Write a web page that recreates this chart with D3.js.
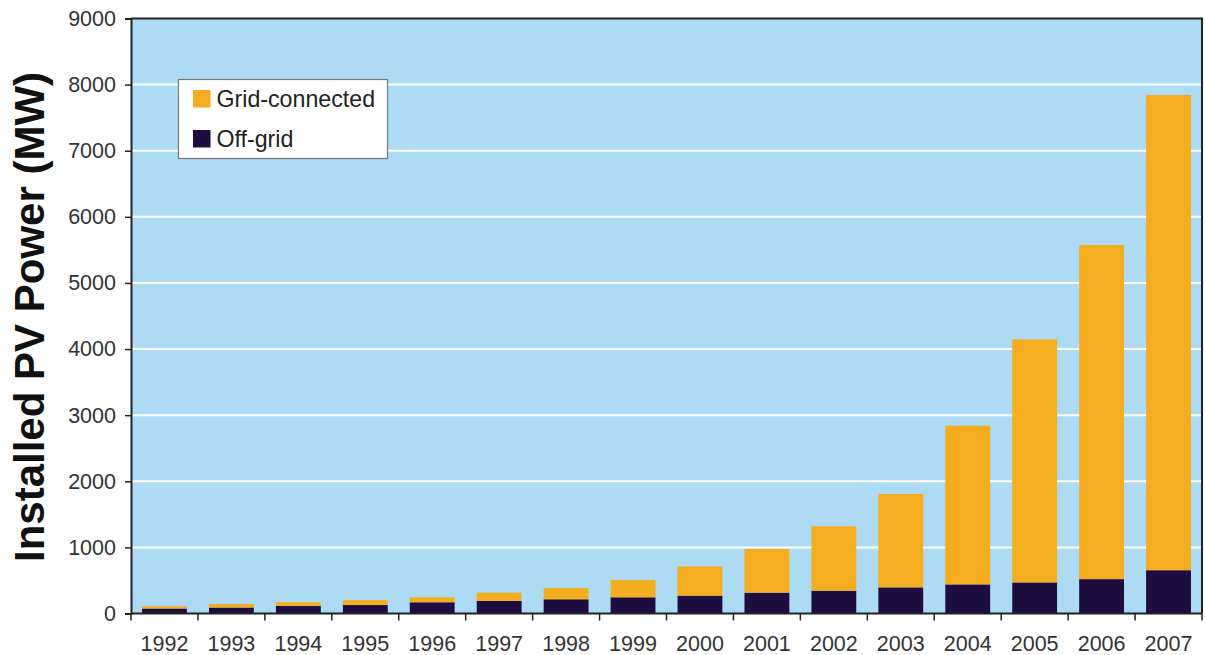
<!DOCTYPE html>
<html>
<head>
<meta charset="utf-8">
<script src="https://cdn.jsdelivr.net/npm/d3@7/dist/d3.min.js"></script>
<style>
  html, body { margin: 0; padding: 0; background: #ffffff; }
  svg { display: block; font-family: "Liberation Sans", Arial, Helvetica, sans-serif; }
</style>
</head>
<body>
<svg id="chart" width="1205" height="655"></svg>
<script>
// Installed PV power (MW) per year, split into off-grid and grid-connected
const years = ["1992","1993","1994","1995","1996","1997","1998","1999",
               "2000","2001","2002","2003","2004","2005","2006","2007"];
const offGrid = [75, 90, 115, 128, 170, 190, 215, 245, 270, 315, 345, 395, 440, 470, 520, 655];
const gridConnected = [35, 53, 55, 72, 75, 125, 170, 260, 442, 661, 974, 1413, 2401, 3678, 5054, 7188];
const yTicks = [0, 1000, 2000, 3000, 4000, 5000, 6000, 7000, 8000, 9000];
const seriesNames = ["Off-grid", "Grid-connected"];
const seriesColors = ["#1e0e40", "#f3ad1e"];

const svg = d3.select("#chart");
const margin = { left: 131, right: 3, top: 18.5, bottom: 41.5 };
const W = 1205, H = 655;
const x0 = margin.left, x1 = W - margin.right;
const y0 = H - margin.bottom, y1 = margin.top;

const rows = years.map((yr, i) => ({ year: yr, "Off-grid": offGrid[i], "Grid-connected": gridConnected[i] }));
const stacked = d3.stack().keys(seriesNames)(rows);

const x = d3.scaleBand().domain(years).range([x0, x1]).paddingInner(0.33).paddingOuter(0.165);
const y = d3.scaleLinear().domain([0, 9000]).range([y0, y1]);
const color = d3.scaleOrdinal().domain(seriesNames).range(seriesColors);

// plot background
svg.append("rect")
  .attr("x", x0).attr("y", y1)
  .attr("width", x1 - x0).attr("height", y0 - y1)
  .attr("fill", "#addbf4");

// horizontal gridlines
svg.append("g")
  .selectAll("line")
  .data(yTicks.filter(d => d > 0 && d < 9000))
  .join("line")
  .attr("x1", x0).attr("x2", x1)
  .attr("y1", d => y(d)).attr("y2", d => y(d))
  .attr("stroke", "#ffffff").attr("stroke-width", 2);

// stacked bars
svg.append("g")
  .selectAll("g")
  .data(stacked)
  .join("g")
  .attr("fill", d => color(d.key))
  .selectAll("rect")
  .data(d => d)
  .join("rect")
  .attr("x", d => x(d.data.year))
  .attr("width", x.bandwidth())
  .attr("y", d => y(d[1]))
  .attr("height", d => y(d[0]) - y(d[1]));

// frame: top and right borders
svg.append("path")
  .attr("d", `M${x0},${y1}H${x1}V${y0}`)
  .attr("fill", "none").attr("stroke", "#222").attr("stroke-width", 2);

// y axis
const yAxis = d3.axisLeft(y).tickValues(yTicks).tickSize(6).tickPadding(9).tickFormat(d3.format("d"));
const gy = svg.append("g").attr("transform", `translate(${x0},0)`).call(yAxis);
gy.select(".domain").attr("stroke", "#222").attr("stroke-width", 2);
gy.selectAll(".tick line").attr("stroke", "#222").attr("stroke-width", 1.5);
gy.selectAll(".tick text")
  .attr("font-size", 21.5).attr("fill", "#333")
  .attr("font-family", "'Liberation Sans', Arial, sans-serif");

// x axis: ticks sit on the band boundaries, labels centred under bars
const gx = svg.append("g").attr("transform", `translate(0,${y0})`);
gx.append("line").attr("x1", x0).attr("x2", x1)
  .attr("stroke", "#222").attr("stroke-width", 2);
const step = x.step();
const boundaries = years.map((yr) => x(yr) - x.paddingInner() * step / 2).concat([x1]);
gx.selectAll("line.tk")
  .data(boundaries)
  .join("line")
  .attr("class", "tk")
  .attr("x1", d => d).attr("x2", d => d)
  .attr("y1", 0).attr("y2", 7)
  .attr("stroke", "#222").attr("stroke-width", 1.5);
gx.selectAll("text")
  .data(years)
  .join("text")
  .attr("x", d => x(d) + x.bandwidth() / 2)
  .attr("y", 37)
  .attr("text-anchor", "middle")
  .attr("font-size", 21.5)
  .attr("fill", "#333")
  .text(d => d);

// y axis title
svg.append("text")
  .attr("transform", "translate(44,317) rotate(-90)")
  .attr("text-anchor", "middle")
  .attr("font-size", 42)
  .attr("font-weight", "bold")
  .attr("fill", "#111")
  .text("Installed PV Power (MW)");

// legend
const legend = svg.append("g");
legend.append("rect")
  .attr("x", 178.5).attr("y", 79.5).attr("width", 209).attr("height", 79)
  .attr("fill", "#ffffff").attr("stroke", "#777").attr("stroke-width", 1.2);
const legendItems = ["Grid-connected", "Off-grid"];
legendItems.forEach((name, i) => {
  const cy = 98.5 + i * 40;
  legend.append("rect")
    .attr("x", 193).attr("y", cy - 8.5).attr("width", 17.5).attr("height", 17.5)
    .attr("fill", color(name));
  legend.append("text")
    .attr("x", 216.5).attr("y", cy + 8.3)
    .attr("font-size", 23.2).attr("fill", "#222")
    .text(name);
});
</script>
</body>
</html>
